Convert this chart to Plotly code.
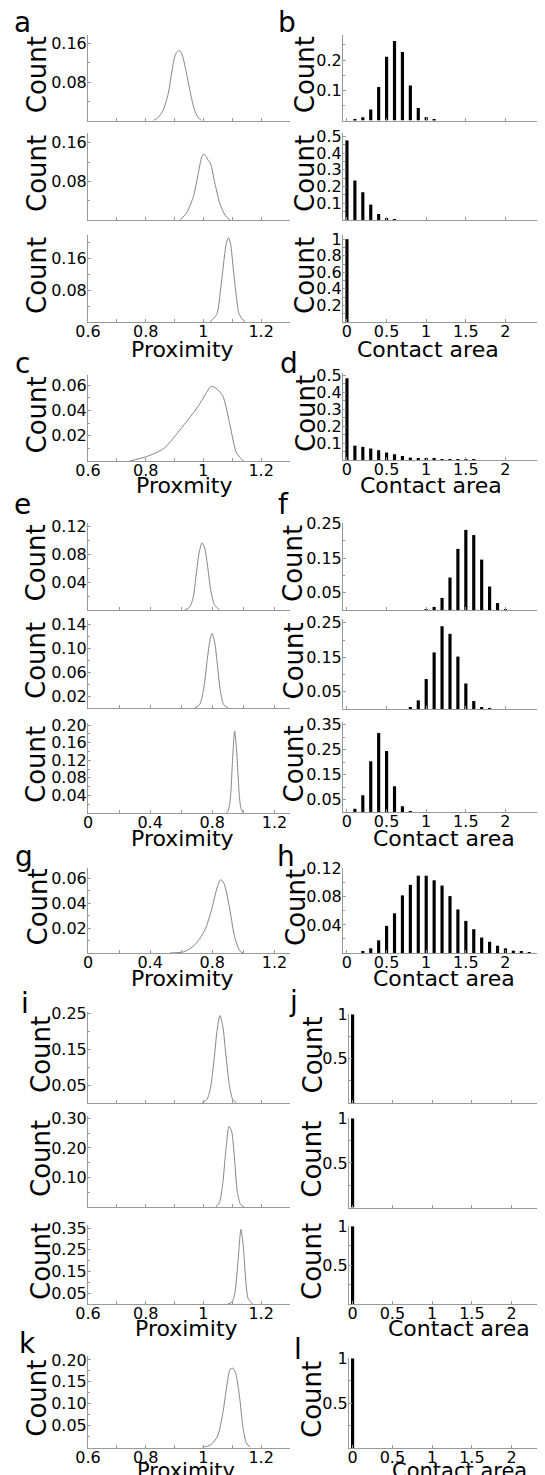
import plotly.graph_objects as go

# ---------------- data ----------------
# proximity distributions (curves)
a1_x = [0.826, 0.843, 0.860, 0.878, 0.893, 0.904, 0.915, 0.925, 0.938, 0.953, 0.968, 0.982, 0.993]
a1_y = [0, 0.006, 0.021, 0.056, 0.111, 0.139, 0.146, 0.139, 0.108, 0.063, 0.024, 0.006, 0]
a2_x = [0.918, 0.941, 0.965, 0.982, 0.994, 1.002, 1.017, 1.025, 1.040, 1.057, 1.075, 1.092]
a2_y = [0, 0.014, 0.048, 0.096, 0.130, 0.137, 0.123, 0.116, 0.075, 0.034, 0.010, 0]
a3_x = [1.022, 1.046, 1.059, 1.071, 1.080, 1.087, 1.094, 1.103, 1.113, 1.124, 1.144]
a3_y = [0, 0.019, 0.078, 0.154, 0.200, 0.211, 0.196, 0.137, 0.070, 0.019, 0]
c_x = [0.744, 0.803, 0.863, 0.923, 0.965, 0.995, 1.025, 1.037, 1.066, 1.090, 1.114, 1.138]
c_y = [0, 0.0035, 0.0099, 0.0259, 0.038, 0.048, 0.0587, 0.0585, 0.052, 0.0307, 0.0067, 0]
e1_x = [0.622, 0.654, 0.676, 0.697, 0.715, 0.734, 0.751, 0.768, 0.790, 0.815, 0.848]
e1_y = [0, 0.004, 0.017, 0.052, 0.082, 0.0965, 0.089, 0.066, 0.028, 0.007, 0]
e2_x = [0.687, 0.719, 0.745, 0.766, 0.783, 0.798, 0.815, 0.833, 0.852, 0.873, 0.901]
e2_y = [0, 0.006, 0.033, 0.078, 0.111, 0.1256, 0.111, 0.072, 0.028, 0.006, 0]
e3_x = [0.89, 0.90, 0.91, 0.92, 0.93, 0.944, 0.955, 0.965, 0.975, 0.985, 1.0]
e3_y = [0, 0.004, 0.016, 0.05, 0.12, 0.186, 0.15, 0.09, 0.035, 0.01, 0]
g_x = [0.527, 0.617, 0.684, 0.751, 0.796, 0.83, 0.852, 0.874, 0.908, 0.942, 0.975, 0.998]
g_y = [0, 0.001, 0.006, 0.018, 0.035, 0.052, 0.0586, 0.056, 0.038, 0.014, 0.002, 0]
i1_x = [0.995, 1.013, 1.025, 1.037, 1.047, 1.057, 1.067, 1.077, 1.089, 1.101, 1.115]
i1_y = [0, 0.011, 0.045, 0.123, 0.201, 0.245, 0.216, 0.142, 0.055, 0.011, 0]
i2_x = [1.043, 1.055, 1.067, 1.077, 1.089, 1.098, 1.108, 1.117, 1.129, 1.141]
i2_y = [0, 0.014, 0.079, 0.185, 0.273, 0.255, 0.161, 0.055, 0.008, 0]
i3_x = [1.085, 1.10, 1.11, 1.12, 1.13, 1.138, 1.146, 1.155, 1.17]
i3_y = [0, 0.01, 0.06, 0.2, 0.345, 0.27, 0.12, 0.025, 0]
k_x = [0.995, 1.025, 1.049, 1.067, 1.083, 1.093, 1.103, 1.112, 1.125, 1.137, 1.149, 1.163]
k_y = [0, 0.006, 0.026, 0.078, 0.149, 0.179, 0.181, 0.169, 0.117, 0.046, 0.010, 0]

# contact-area histograms (bars)
b1_x = [0.1, 0.2, 0.3, 0.4, 0.5, 0.6, 0.7, 0.8, 0.9, 1.0, 1.1]
b1_y = [0.004, 0.011, 0.036, 0.111, 0.211, 0.263, 0.227, 0.116, 0.041, 0.011, 0.002]
b2_x = [0, 0.1, 0.2, 0.3, 0.4, 0.5, 0.6]
b2_y = [0.476, 0.236, 0.166, 0.092, 0.036, 0.01, 0.002]
b3_x = [0]
b3_y = [1.0]
d_x = [0, 0.1, 0.2, 0.3, 0.4, 0.5, 0.6, 0.7, 0.8, 0.9, 1.0, 1.1, 1.2, 1.3, 1.4, 1.5, 1.6]
d_y = [0.484, 0.085, 0.078, 0.068, 0.058, 0.044, 0.034, 0.024, 0.014, 0.012, 0.008,
       0.006, 0.004, 0.003, 0.002, 0.001, 0.001]
f1_x = [1.0, 1.1, 1.2, 1.3, 1.4, 1.5, 1.6, 1.7, 1.8, 1.9, 2.0]
f1_y = [0.002, 0.009, 0.035, 0.094, 0.177, 0.232, 0.217, 0.146, 0.068, 0.02, 0.002]
f2_x = [0.8, 0.9, 1.0, 1.1, 1.2, 1.3, 1.4, 1.5, 1.6, 1.7, 1.8]
f2_y = [0.003, 0.025, 0.087, 0.164, 0.24, 0.218, 0.152, 0.074, 0.023, 0.004, 0.001]
f3_x = [0.1, 0.2, 0.3, 0.4, 0.5, 0.6, 0.7, 0.8]
f3_y = [0.013, 0.067, 0.203, 0.316, 0.244, 0.103, 0.023, 0.003]
h_x = [0.2, 0.3, 0.4, 0.5, 0.6, 0.7, 0.8, 0.9, 1.0, 1.1, 1.2, 1.3, 1.4, 1.5, 1.6,
       1.7, 1.8, 1.9, 2.0, 2.1, 2.2, 2.3]
h_y = [0.002, 0.0066, 0.018, 0.0386, 0.0565, 0.082, 0.097, 0.110, 0.110, 0.1035, 0.096,
       0.081, 0.062, 0.0457, 0.0339, 0.022, 0.016, 0.0104, 0.0066, 0.0033, 0.002, 0.001]
j1_x = [0]
j1_y = [1.0]
j2_x = [0]
j2_y = [1.0]
j3_x = [0]
j3_y = [1.0]
l_x = [0]
l_y = [1.0]

# tick labels
prox_ticks_a = [0.6, 0.8, 1.0, 1.2]
prox_text_a = ["0.6", "0.8", "1", "1.2"]
prox_ticks_e = [0, 0.4, 0.8, 1.2]
prox_text_e = ["0", "0.4", "0.8", "1.2"]
area_ticks = [0, 0.5, 1, 1.5, 2]
area_text = ["0", "0.5", "1", "1.5", "2"]

yt_a = [0.08, 0.16]; yl_a = ["0.08", "0.16"]
yt_b1 = [0.1, 0.2]; yl_b1 = ["0.1", "0.2"]
yt_b2 = [0.1, 0.2, 0.3, 0.4, 0.5]; yl_b2 = ["0.1", "0.2", "0.3", "0.4", "0.5"]
yt_b3 = [0.2, 0.4, 0.6, 0.8, 1.0]; yl_b3 = ["0.2", "0.4", "0.6", "0.8", "1"]
yt_c = [0.02, 0.04, 0.06]; yl_c = ["0.02", "0.04", "0.06"]
yt_e1 = [0.04, 0.08, 0.12]; yl_e1 = ["0.04", "0.08", "0.12"]
yt_e2 = [0.02, 0.06, 0.10, 0.14]; yl_e2 = ["0.02", "0.06", "0.10", "0.14"]
yt_e3 = [0.04, 0.08, 0.12, 0.16, 0.20]; yl_e3 = ["0.04", "0.08", "0.12", "0.16", "0.20"]
yt_f = [0.05, 0.15, 0.25]; yl_f = ["0.05", "0.15", "0.25"]
yt_f3 = [0.05, 0.15, 0.25, 0.35]; yl_f3 = ["0.05", "0.15", "0.25", "0.35"]
yt_h = [0.04, 0.08, 0.12]; yl_h = ["0.04", "0.08", "0.12"]
yt_i2 = [0.10, 0.20, 0.30]; yl_i2 = ["0.10", "0.20", "0.30"]
yt_j = [0.5, 1.0]; yl_j = ["0.5", "1"]
yt_k = [0.05, 0.10, 0.15, 0.20]; yl_k = ["0.05", "0.10", "0.15", "0.20"]

# ---------------- layout / style ----------------
W, H = 545, 1475
OFF = 8  # page body margin of the html page
FONT = "DejaVu Sans"
SPINE = "#9a9a9a"
CURVE = "#858585"

LX = (88, 290)
RX = (343, 553)
RXJ = (349, 553)

PA = dict(range=[0.6, 1.3], vals=prox_ticks_a, text=prox_text_a, minor=[0.7, 0.9, 1.1])
PE = dict(range=[0, 1.3], vals=prox_ticks_e, text=prox_text_e, minor=[0.2, 0.6, 1.0])
AR = dict(range=[-0.05, 2.6], vals=area_ticks, text=area_text, minor=[])
ARJ = dict(range=[-0.045, 2.52], vals=area_ticks, text=area_text, minor=[])

# kind, x, y, xbox, (top,bottom), xcfg, show x labels, yrange, ytickvals, yticktext, count_x
panels = [
    ("line", a1_x, a1_y, LX, (35, 120.5), PA, False, [0, 0.178], yt_a, yl_a, 36.5),
    ("line", a2_x, a2_y, LX, (133, 220), PA, False, [0, 0.18], yt_a, yl_a, 36.5),
    ("line", a3_x, a3_y, LX, (235, 322), PA, True, [0, 0.218], yt_a, yl_a, 36.5),
    ("bar", b1_x, b1_y, RX, (35, 120.5), AR, False, [0, 0.283], yt_b1, yl_b1, 304.5),
    ("bar", b2_x, b2_y, RX, (133, 220), AR, False, [0, 0.52], yt_b2, yl_b2, 304.5),
    ("bar", b3_x, b3_y, RX, (235, 322), AR, True, [0, 1.05], yt_b3, yl_b3, 304.5),
    ("line", c_x, c_y, LX, (375, 461), PA, True, [0, 0.068], yt_c, yl_c, 36.5),
    ("bar", d_x, d_y, RX, (373, 460), AR, True, [0, 0.515], yt_b2, yl_b2, 305.5),
    ("line", e1_x, e1_y, LX, (523, 610), PE, False, [0, 0.125], yt_e1, yl_e1, 36),
    ("line", e2_x, e2_y, LX, (620, 708), PE, False, [0, 0.148], yt_e2, yl_e2, 36),
    ("line", e3_x, e3_y, LX, (723, 813), PE, True, [0, 0.205], yt_e3, yl_e3, 36),
    ("bar", f1_x, f1_y, RX, (523, 610), AR, False, [0, 0.252], yt_f, yl_f, 293.5),
    ("bar", f2_x, f2_y, RX, (619, 709), AR, False, [0, 0.261], yt_f, yl_f, 293.5),
    ("bar", f3_x, f3_y, RX, (722, 812), AR, True, [0, 0.36], yt_f3, yl_f3, 293.5),
    ("line", g_x, g_y, LX, (868, 953), PE, True, [0, 0.068], yt_c, yl_c, 37),
    ("bar", h_x, h_y, RX, (868, 953), AR, True, [0, 0.121], yt_h, yl_h, 295.5),
    ("line", i1_x, i1_y, LX, (1012, 1103), PA, False, [0, 0.255], yt_f, yl_f, 40.5),
    ("line", i2_x, i2_y, LX, (1116, 1207), PA, False, [0, 0.308], yt_i2, yl_i2, 40.5),
    ("line", i3_x, i3_y, LX, (1225, 1304), PA, True, [0, 0.365], yt_f3, yl_f3, 40.5),
    ("bar", j1_x, j1_y, RXJ, (1014, 1103), ARJ, False, [0, 1.005], yt_j, yl_j, 312),
    ("bar", j2_x, j2_y, RXJ, (1118, 1207.5), ARJ, False, [0, 1.005], yt_j, yl_j, 312),
    ("bar", j3_x, j3_y, RXJ, (1226, 1304), ARJ, True, [0, 1.005], yt_j, yl_j, 312),
    ("line", k_x, k_y, LX, (1356, 1447.5), PA, True, [0, 0.209], yt_k, yl_k, 37),
    ("bar", l_x, l_y, RXJ, (1358, 1448), ARJ, True, [0, 1.005], yt_j, yl_j, 312),
]

letters = [("a", 22.5, 23), ("b", 287, 22.5), ("c", 22, 364), ("d", 289, 364),
           ("e", 22, 504), ("f", 283, 504), ("g", 24, 856), ("h", 286, 856),
           ("i", 25, 1003.5), ("j", 293, 1001), ("k", 27, 1343.5), ("l", 298, 1349)]

xlabels = [("Proximity", 182.5, 349, 22), ("Contact area", 428, 349, 22),
           ("Proxmity", 184, 485, 22), ("Contact area", 431, 485, 22),
           ("Proximity", 182.6, 838, 22), ("Contact area", 444, 838, 22),
           ("Proximity", 182.6, 979, 22), ("Contact area", 444, 979, 22),
           ("Proximity", 186, 1328, 22), ("Contact area", 459, 1328, 22),
           ("Proximity", 186, 1471, 21), ("Contact area", 459, 1471, 21)]


def px2x(v):
    return (v - OFF) / W


def px2y(v):
    return 1 - (v - OFF) / H


fig = go.Figure()
layout = {}
annotations = []

for n, (kind, xs, ys, xb, yb, xc, showx, yr, ytv, ytt, cx) in enumerate(panels, start=1):
    xa = "x" if n == 1 else f"x{n}"
    ya = "y" if n == 1 else f"y{n}"
    if kind == "line":
        fig.add_trace(go.Scatter(x=xs, y=ys, mode="lines", xaxis=xa, yaxis=ya,
                                 line=dict(color=CURVE, width=1, shape="spline", smoothing=0.7),
                                 hoverinfo="skip", showlegend=False))
    else:
        fig.add_trace(go.Bar(x=xs, y=ys, width=0.04, xaxis=xa, yaxis=ya,
                             marker=dict(color="black", line=dict(width=0)),
                             hoverinfo="skip", showlegend=False))
    ystep = (ytv[1] - ytv[0]) / 2 if len(ytv) > 1 else 0
    yminor = [v - ystep for v in ytv if v - ystep > 0] + [ytv[-1] + ystep] if ystep else []
    yminor = [v for v in yminor if v < yr[1]]
    layout["xaxis" if n == 1 else f"xaxis{n}"] = dict(
        domain=[px2x(xb[0]), min(1.0, px2x(xb[1]))], anchor=ya, range=xc["range"],
        showline=True, linecolor=SPINE, linewidth=1, mirror=False,
        showgrid=False, zeroline=False, fixedrange=True, automargin=False,
        ticks="inside", ticklen=3, tickcolor=SPINE, tickwidth=1,
        tickmode="array", tickvals=xc["vals"], ticktext=xc["text"],
        showticklabels=showx, ticklabelstandoff=-5,
        tickfont=dict(family=FONT, size=16, color="black"),
        minor=dict(ticks="inside", ticklen=3, tickcolor=SPINE, tickvals=xc["minor"]),
    )
    layout["yaxis" if n == 1 else f"yaxis{n}"] = dict(
        domain=[px2y(yb[1]), px2y(yb[0])], anchor=xa, range=yr,
        showline=True, linecolor=SPINE, linewidth=1, mirror=False,
        showgrid=False, zeroline=False, fixedrange=True, automargin=False,
        ticks="inside", ticklen=3, tickcolor=SPINE, tickwidth=1,
        tickmode="array", tickvals=ytv, ticktext=ytt, ticklabelstandoff=-3,
        tickfont=dict(family=FONT, size=16, color="black"),
        minor=dict(ticks="inside", ticklen=2, tickcolor=SPINE, tickvals=yminor),
    )
    annotations.append(dict(text="Count", x=px2x(cx), y=px2y((yb[0] + yb[1]) / 2 - 3),
                            xref="paper", yref="paper", showarrow=False, textangle=-90,
                            xanchor="center", yanchor="middle",
                            font=dict(family=FONT, size=26, color="black")))

for t, x, y in letters:
    annotations.append(dict(text=t, x=px2x(x), y=px2y(y), xref="paper", yref="paper",
                            showarrow=False, xanchor="center", yanchor="middle",
                            font=dict(family=FONT, size=28, color="black")))

for t, x, y, s in xlabels:
    annotations.append(dict(text=t, x=px2x(x), y=px2y(y), xref="paper", yref="paper",
                            showarrow=False, xanchor="center", yanchor="middle",
                            font=dict(family=FONT, size=s, color="black")))

fig.update_layout(
    width=W, height=H,
    margin=dict(l=0, r=0, t=0, b=0, pad=0),
    paper_bgcolor="white", plot_bgcolor="white",
    showlegend=False,
    annotations=annotations,
    **layout,
)

fig.write_html("out.html", config={"displayModeBar": False})
